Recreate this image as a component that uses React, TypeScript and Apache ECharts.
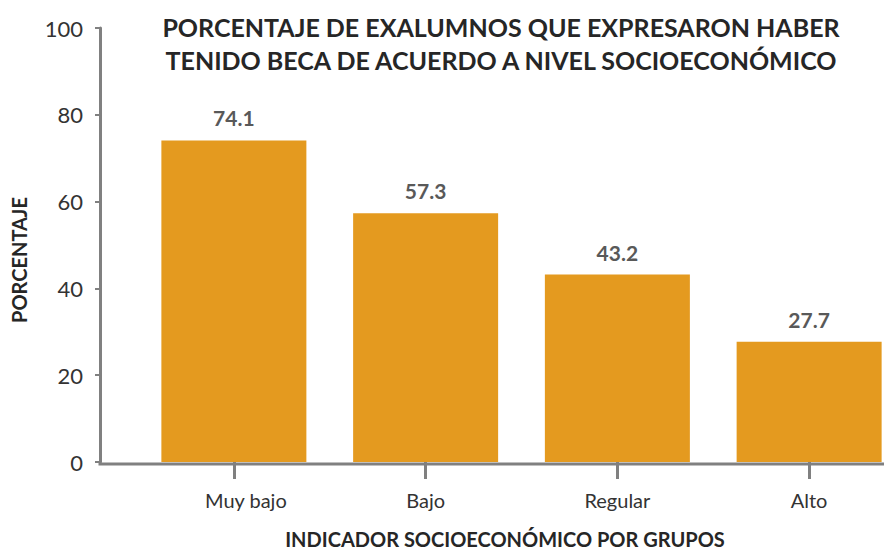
import React, { useEffect, useRef } from "react";
import * as echarts from "echarts";

const title = "PORCENTAJE DE EXALUMNOS QUE EXPRESARON HABER\nTENIDO BECA DE ACUERDO A NIVEL SOCIOECONÓMICO";
const categories = ["Muy bajo", "Bajo", "Regular", "Alto"];
const values = [74.1, 57.3, 43.2, 27.7];
const yAxisName = "PORCENTAJE";
const xAxisName = "INDICADOR SOCIOECONÓMICO POR GRUPOS";

const FONT = "Lato, 'Open Sans', sans-serif";
const AXIS_COLOR = "#808080";
const CHART_W = 905;

export default function App() {
  const ref = useRef<HTMLDivElement>(null);
  useEffect(() => {
    document.body.style.margin = "0";
    const chart = echarts.init(ref.current!, undefined, { renderer: "svg" });
    chart.setOption({
      animation: false,
      backgroundColor: "#ffffff",
      textStyle: { fontFamily: FONT },
      title: {
        text: title,
        left: 496,
        top: 5,
        textAlign: "center",
        textStyle: {
          fontFamily: FONT,
          fontSize: 25,
          fontWeight: "bold",
          color: "#262626",
          lineHeight: 33,
          align: "center",
        },
      },
      grid: { left: 138, right: 0, top: 28, bottom: 90, containLabel: false },
      xAxis: {
        type: "category",
        data: categories.map((c, i) =>
          i === 0 ? { value: c, textStyle: { padding: [0, 0, 0, 24] } } : c
        ),
        axisLine: { show: false },
        axisTick: { show: true, alignWithLabel: true, length: 17, lineStyle: { color: AXIS_COLOR, width: 3 } },
        axisLabel: { margin: 28, fontSize: 20, color: "#333333", fontFamily: FONT },
        name: xAxisName,
        nameLocation: "middle",
        nameGap: 67,
        nameTextStyle: { fontSize: 20, fontWeight: "bold", color: "#262626", fontFamily: FONT, padding: [0, 33, 0, 0] },
      },
      yAxis: {
        type: "value",
        min: 0,
        max: 100,
        interval: 20,
        offset: 38,
        axisLine: { show: true, lineStyle: { color: AXIS_COLOR, width: 3 } },
        axisTick: { show: true, length: 5, lineStyle: { color: AXIS_COLOR, width: 2 } },
        splitLine: { show: false },
        axisLabel: { margin: 17, fontSize: 22, color: "#333333", fontFamily: FONT },
        name: yAxisName,
        nameLocation: "middle",
        nameGap: 71,
        nameRotate: 90,
        nameTextStyle: { fontSize: 20, fontWeight: "bold", color: "#262626", fontFamily: FONT, padding: [0, 30, 0, 0] },
      },
      graphic: [
        {
          type: "line",
          shape: { x1: 98.5, y1: 464, x2: CHART_W, y2: 464 },
          style: { stroke: AXIS_COLOR, lineWidth: 3 },
          z: 10,
        },
      ],
      series: [
        {
          type: "bar",
          data: values,
          barWidth: 145,
          itemStyle: { color: "#E49A1F" },
          label: {
            show: true,
            position: "top",
            distance: 12,
            fontSize: 21,
            fontWeight: "bold",
            color: "#595959",
            fontFamily: FONT,
            formatter: (p: any) => p.value.toFixed(1),
          },
        },
      ],
    });
    return () => chart.dispose();
  }, []);
  return (
    <div style={{ width: 884, height: 554, overflow: "hidden", position: "relative" }}>
      <div ref={ref} style={{ width: CHART_W, height: 554 }} />
    </div>
  );
}
